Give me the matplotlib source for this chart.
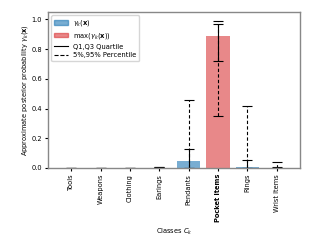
import numpy as np
import matplotlib
matplotlib.use("Agg")
import matplotlib.pyplot as plt
from matplotlib.patches import Patch
from matplotlib.lines import Line2D

classes = ['Tools', 'Weapons', 'Clothing', 'Earings', 'Pendants', 'Pocket Items', 'Rings', 'Wrist Items']
mean = [0.001, 0.001, 0.001, 0.002, 0.045, 0.89, 0.005, 0.003]
q1 = [0.0, 0.0, 0.0, 0.0, 0.002, 0.72, 0.0, 0.0]
q3 = [0.001, 0.001, 0.001, 0.004, 0.13, 0.97, 0.055, 0.004]
p5 = [0.0, 0.0, 0.0, 0.0, 0.0, 0.35, 0.0, 0.0]
p95 = [0.002, 0.002, 0.002, 0.006, 0.46, 0.99, 0.42, 0.04]
best = 5  # index of the max class

plt.rcParams['font.size'] = 4.8
plt.rcParams['xtick.major.size'] = 2.2
plt.rcParams['ytick.major.size'] = 2.2
plt.rcParams['xtick.major.pad'] = 2
plt.rcParams['ytick.major.pad'] = 2
plt.rcParams['axes.labelpad'] = 3

fig = plt.figure(figsize=(3.2, 2.4), dpi=100)
ax = fig.add_axes([0.15, 0.30, 0.7875, 0.65])

x = np.arange(len(classes))
colors = ['tab:blue'] * len(classes)
alphas = [0.6] * len(classes)
colors[best] = 'tab:red'
alphas[best] = 0.55
for i in x:
    ax.bar(i, mean[i], width=0.8, color=colors[i], alpha=alphas[i])

mid = np.array(mean)
# 5%-95% dashed
eb = ax.errorbar(x, mid, yerr=[mid - np.array(p5), np.array(p95) - mid], fmt='none',
                 ecolor='black', elinewidth=0.8, capsize=3.5, capthick=0.8)
eb[2][0].set_linestyle((0, (3, 2)))
# Q1-Q3 solid
ax.errorbar(x, mid, yerr=[mid - np.array(q1), np.array(q3) - mid], fmt='none',
            ecolor='black', elinewidth=0.8, capsize=3.5, capthick=0.8)

ax.set_ylim(0, 1.05)
ax.set_xticks(x)
ax.set_xticklabels(classes, rotation=90)
ax.get_xticklabels()[best].set_fontweight('bold')
ax.set_xlabel('Classes $C_k$')
ax.set_ylabel(r'Approximate posterior probability $\gamma_k(\mathbf{x})$', labelpad=1)
for s in ax.spines.values():
    s.set_color('#888888')
    s.set_linewidth(1.0)

handles = [Patch(color='tab:blue', alpha=0.6), Patch(color='tab:red', alpha=0.55),
           Line2D([], [], color='black', lw=0.8), Line2D([], [], color='black', lw=0.8, ls='--')]
labels = [r'$\gamma_k(\mathbf{x})$', r'$\max(\gamma_k(\mathbf{x}))$', 'Q1,Q3 Quartile', '5%,95% Percentile']
ax.legend(handles, labels, loc='upper left', fontsize=4.9, handlelength=2.0, labelspacing=0.4)

fig.savefig('out.png', dpi=100)
